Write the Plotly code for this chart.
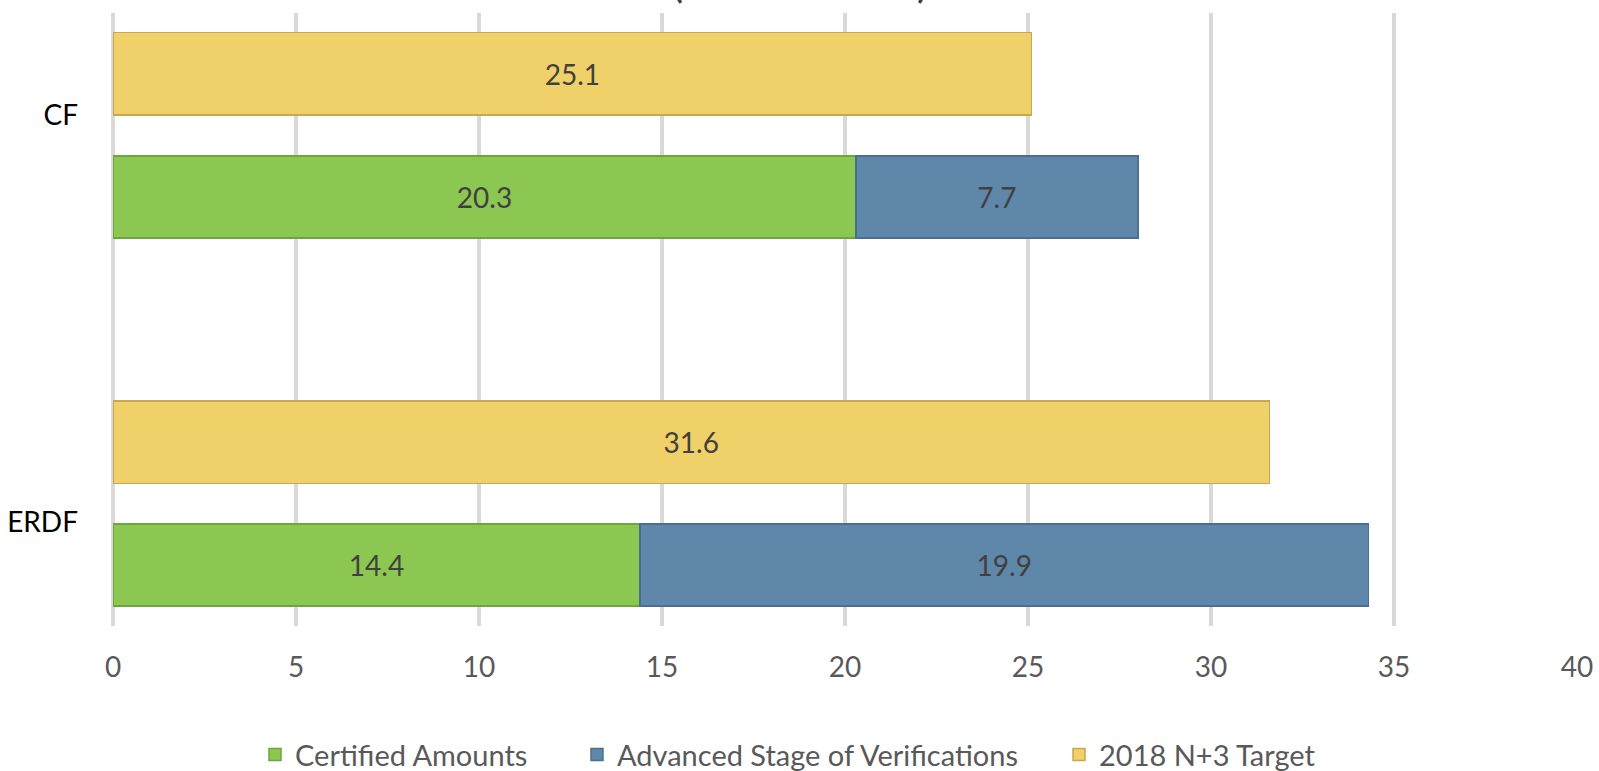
import plotly.graph_objects as go

# Funds and amounts (EUR million)
funds = ["ERDF", "CF"]
certified = [14.4, 20.3]
advanced = [19.9, 7.7]
target_2018 = [31.6, 25.1]

tick_vals = [0, 5, 10, 15, 20, 25, 30, 35, 40]

FONT = "Lato"
GREEN = "#8cc751"
BLUE = "#5f87aa"
GOLD = "#f0d068"

fig = go.Figure()

# invisible trace that carries the fund labels on the main y axis
fig.add_trace(go.Scatter(
    x=[0, 0], y=funds, mode="none", showlegend=False,
    hoverinfo="skip", yaxis="y",
))

label_font = dict(family=FONT, size=28, color="#404040")

fig.add_trace(go.Bar(
    name="Certified Amounts", x=certified, y=funds, orientation="h",
    yaxis="y2", width=0.224, legend="legend",
    marker=dict(color=GREEN, line=dict(color="#6fa63c", width=1.5)),
    text=[f"{v:.1f}" for v in certified], textposition="inside",
    insidetextanchor="middle", textangle=0, textfont=label_font,
))
fig.add_trace(go.Bar(
    name="Advanced Stage of Verifications", x=advanced, y=funds,
    orientation="h", yaxis="y2", width=0.224, legend="legend2",
    marker=dict(color=BLUE, line=dict(color="#4a6f90", width=1.5)),
    text=[f"{v:.1f}" for v in advanced], textposition="inside",
    insidetextanchor="middle", textangle=0, textfont=label_font,
))
fig.add_trace(go.Bar(
    name="2018 N+3 Target", x=target_2018, y=funds, orientation="h",
    yaxis="y3", width=0.224, legend="legend3",
    marker=dict(color=GOLD, line=dict(color="#c9a650", width=1.5)),
    text=[f"{v:.1f}" for v in target_2018], textposition="inside",
    insidetextanchor="middle", textangle=0, textfont=label_font,
))

legend_style = dict(
    orientation="h", xanchor="left", y=-0.21, yanchor="middle",
    font=dict(family=FONT, size=29, color="#595959"),
    itemclick=False, bgcolor="rgba(0,0,0,0)",
    itemwidth=30,
)

fig.update_layout(
    width=1599, height=771,
    margin=dict(l=113, r=22, t=13, b=145, autoexpand=False),
    paper_bgcolor="white", plot_bgcolor="white",
    barmode="stack",
    font=dict(family=FONT, color="#595959"),
    xaxis=dict(
        range=[0, 40], tickvals=tick_vals, showgrid=True,
        gridcolor="#d9d9d9", gridwidth=4,
        zeroline=True, zerolinecolor="#d9d9d9", zerolinewidth=4,
        showline=False, ticks="", ticklabelstandoff=22, automargin=False,
        tickfont=dict(family=FONT, size=28, color="#595959"),
    ),
    yaxis=dict(
        type="category", categoryarray=funds, range=[-0.2555, 1.2506],
        showgrid=False, zeroline=False, showline=False, ticks="",
        ticklabelstandoff=34, automargin=False,
        tickfont=dict(family=FONT, size=28, color="#000000"),
    ),
    yaxis2=dict(
        type="category", categoryarray=funds, range=[-0.1658, 1.5],
        overlaying="y", showgrid=False, zeroline=False,
        showticklabels=False, ticks="",
    ),
    yaxis3=dict(
        type="category", categoryarray=funds, range=[-0.4988, 1.1647],
        overlaying="y", showgrid=False, zeroline=False,
        showticklabels=False, ticks="",
    ),
    legend=dict(legend_style, x=(255 - 113) / 1464),
    legend2=dict(legend_style, x=(577 - 113) / 1464),
    legend3=dict(legend_style, x=(1059 - 113) / 1464),
    annotations=[dict(
        text="(EUR million)", xref="paper", yref="paper",
        x=(800 - 113) / 1464, y=1.006, xanchor="center", yanchor="bottom",
        showarrow=False, font=dict(family=FONT, size=46, color="#404040"),
    )],
)

fig.write_html("out.html")
